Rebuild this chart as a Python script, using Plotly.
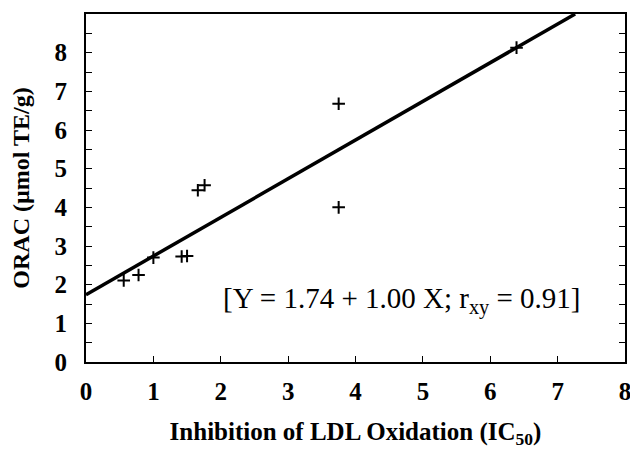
import plotly.graph_objects as go

x_ic50 = [0.56, 0.78, 1.00, 1.42, 1.50, 1.66, 1.76, 3.75, 3.75, 6.39]
y_orac = [2.11, 2.25, 2.70, 2.73, 2.74, 4.44, 4.57, 6.68, 4.00, 8.13]
intercept = 1.74
slope = 1.00
x_range = [0, 8]
y_range = [0, 9]
line_x = [0, (9 - intercept) / slope]
line_y = [intercept + slope * v for v in line_x]

FONT = "Liberation Serif"

fig = go.Figure()
fig.add_trace(go.Scatter(x=line_x, y=line_y, mode="lines",
                         line=dict(color="black", width=3.5), hoverinfo="skip"))
fig.add_trace(go.Scatter(x=x_ic50, y=y_orac, mode="markers",
                         marker=dict(symbol="cross-thin", size=9, color="black",
                                     line=dict(color="black", width=2))))

fig.add_annotation(x=0.25, y=0.178, xref="paper", yref="paper", xanchor="left", yanchor="middle",
                   text="[Y = 1.74 + 1.00 X; r<sub>xy</sub> = 0.91]", showarrow=False,
                   font=dict(family=FONT, size=29, color="black"))

fig.update_layout(
    width=630, height=449,
    margin=dict(l=86, r=5, t=14, b=87, autoexpand=False),
    paper_bgcolor="white", plot_bgcolor="white",
    showlegend=False,
    font=dict(family=FONT, color="black"),
    xaxis=dict(range=x_range, dtick=1, tick0=0, showgrid=False, zeroline=False,
               showline=True, linecolor="black", linewidth=2, mirror=True,
               ticks="inside", ticklen=6, tickwidth=1, tickcolor="black",
               tickfont=dict(family=FONT, size=25, color="black", weight="bold"),
               ticklabelstandoff=6, automargin=False, ticklabeloverflow="allow",
               title=dict(text="<b>Inhibition of LDL Oxidation (IC<sub>50</sub>)</b>",
                          font=dict(family=FONT, size=25, color="black"), standoff=18)),
    yaxis=dict(range=y_range, tickvals=[0, 1, 2, 3, 4, 5, 6, 7, 8],
               showgrid=False, zeroline=False,
               showline=True, linecolor="black", linewidth=2, mirror="ticks",
               ticks="inside", ticklen=6, tickwidth=1, tickcolor="black",
               minor=dict(dtick=0.5, tick0=0, ticks="inside", ticklen=6, tickcolor="black", showgrid=False),
               tickfont=dict(family=FONT, size=25, color="black", weight="bold"),
               ticklabelstandoff=12, automargin=False, ticklabeloverflow="allow",
               title=dict(text="<b>ORAC (µmol TE/g)</b>",
                          font=dict(family=FONT, size=24, color="black"), standoff=18)),
)

fig.write_html("out.html", config={"displayModeBar": False},
               post_script="document.body.style.margin='0';document.body.style.overflow='hidden';")
